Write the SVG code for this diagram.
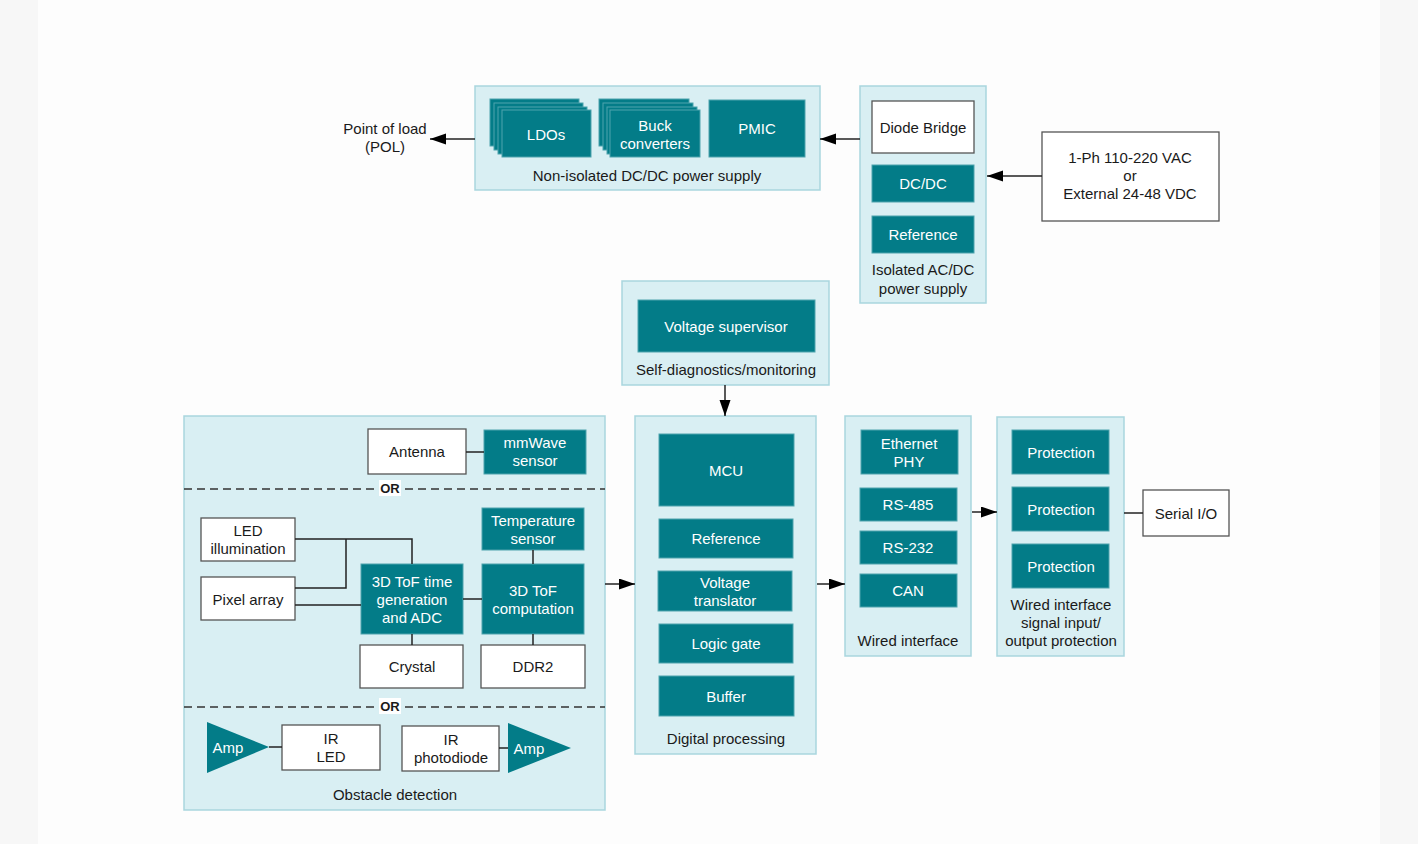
<svg xmlns="http://www.w3.org/2000/svg" width="1418" height="844" viewBox="0 0 1418 844">
<defs>
<style>
text{font-family:"Liberation Sans",Arial,sans-serif;font-size:15px;fill:#1a1a1a;text-anchor:middle;dominant-baseline:central}
.w{fill:#ffffff}
.grp{fill:#d9eff3;stroke:#a9d6de;stroke-width:1.5}
.teal{fill:#037c88;stroke:#4fa3ad;stroke-width:1}
.box{fill:#ffffff;stroke:#555555;stroke-width:1.3}
.ln{stroke:#222222;stroke-width:1.5;fill:none}
.dash{stroke:#333333;stroke-width:1.5;stroke-dasharray:8 5;fill:none}
.or{font-weight:bold;font-size:13px}
</style>
<marker id="ah" markerUnits="userSpaceOnUse" markerWidth="16" markerHeight="12" refX="16" refY="5.5" orient="auto">
<path d="M0,0 L16,5.5 L0,11 z" fill="#000000"/>
</marker>
</defs>
<rect x="0" y="0" width="1418" height="844" fill="#f7f7f7"/>
<rect x="38" y="0" width="1342" height="844" fill="#fdfdfd"/>

<g id="nonisolated">
<rect class="grp" x="475" y="86" width="345" height="104"/>
<rect class="teal" x="490" y="99" width="89" height="47"/>
<rect class="teal" x="494" y="103" width="89" height="47"/>
<rect class="teal" x="498" y="107" width="89" height="47"/>
<rect class="teal" x="502" y="110" width="89" height="47"/>
<text class="w" x="546" y="134">LDOs</text>
<rect class="teal" x="599" y="99" width="90" height="47"/>
<rect class="teal" x="603" y="103" width="90" height="47"/>
<rect class="teal" x="607" y="107" width="90" height="47"/>
<rect class="teal" x="610" y="110" width="90" height="47"/>
<text class="w" x="655" y="125">Buck</text>
<text class="w" x="655" y="143">converters</text>
<rect class="teal" x="709" y="100" width="96" height="57"/>
<text class="w" x="757" y="128">PMIC</text>
<text x="647" y="175">Non-isolated DC/DC power supply</text>
</g>

<g id="pol">
<text x="385" y="128">Point of load</text>
<text x="385" y="146">(POL)</text>
</g>

<g id="isolated">
<rect class="grp" x="860" y="86" width="126" height="217"/>
<rect class="box" x="872" y="101" width="102" height="52"/>
<text x="923" y="127">Diode Bridge</text>
<rect class="teal" x="872" y="165" width="102" height="37"/>
<text class="w" x="923" y="183">DC/DC</text>
<rect class="teal" x="872" y="216" width="102" height="37"/>
<text class="w" x="923" y="234">Reference</text>
<text x="923" y="269">Isolated AC/DC</text>
<text x="923" y="288">power supply</text>
</g>

<g id="input">
<rect class="box" x="1042" y="132" width="177" height="89"/>
<text x="1130" y="157">1-Ph 110-220 VAC</text>
<text x="1130" y="175">or</text>
<text x="1130" y="193">External 24-48 VDC</text>
</g>

<g id="selfdiag">
<rect class="grp" x="622" y="281" width="207" height="104"/>
<rect class="teal" x="638" y="300" width="177" height="52"/>
<text class="w" x="726" y="326">Voltage supervisor</text>
<text x="726" y="369">Self-diagnostics/monitoring</text>
</g>

<g id="digital">
<rect class="grp" x="635" y="416" width="181" height="338"/>
<rect class="teal" x="659" y="434" width="135" height="72"/>
<text class="w" x="726" y="470">MCU</text>
<rect class="teal" x="659" y="519" width="134" height="39"/>
<text class="w" x="726" y="538">Reference</text>
<rect class="teal" x="658" y="571" width="134" height="40"/>
<text class="w" x="725" y="582">Voltage</text>
<text class="w" x="725" y="600">translator</text>
<rect class="teal" x="659" y="624" width="134" height="39"/>
<text class="w" x="726" y="643">Logic gate</text>
<rect class="teal" x="659" y="676" width="135" height="40"/>
<text class="w" x="726" y="696">Buffer</text>
<text x="726" y="738">Digital processing</text>
</g>

<g id="wired">
<rect class="grp" x="845" y="416" width="126" height="240"/>
<rect class="teal" x="861" y="430" width="97" height="44"/>
<text class="w" x="909" y="443">Ethernet</text>
<text class="w" x="909" y="461">PHY</text>
<rect class="teal" x="860" y="488" width="97" height="33"/>
<text class="w" x="908" y="504">RS-485</text>
<rect class="teal" x="860" y="531" width="97" height="33"/>
<text class="w" x="908" y="547">RS-232</text>
<rect class="teal" x="860" y="574" width="97" height="33"/>
<text class="w" x="908" y="590">CAN</text>
<text x="908" y="640">Wired interface</text>
</g>

<g id="protection">
<rect class="grp" x="997" y="417" width="127" height="239"/>
<rect class="teal" x="1012" y="430" width="97" height="44"/>
<text class="w" x="1061" y="452">Protection</text>
<rect class="teal" x="1012" y="487" width="97" height="44"/>
<text class="w" x="1061" y="509">Protection</text>
<rect class="teal" x="1012" y="544" width="97" height="44"/>
<text class="w" x="1061" y="566">Protection</text>
<text x="1061" y="604">Wired interface</text>
<text x="1061" y="622">signal input/</text>
<text x="1061" y="640">output protection</text>
</g>

<g id="serial">
<rect class="box" x="1143" y="490" width="86" height="46"/>
<text x="1186" y="513">Serial I/O</text>
</g>

<g id="sensing">
<rect class="grp" x="184" y="416" width="421" height="394"/>
<path class="dash" d="M184,489 H605"/>
<path class="dash" d="M184,707 H605"/>
<rect x="379" y="480" width="22" height="16" fill="#ffffff"/>
<text class="or" x="390" y="488">OR</text>
<rect x="379" y="698" width="22" height="16" fill="#ffffff"/>
<text class="or" x="390" y="706">OR</text>
<text x="395" y="794">Obstacle detection</text>
</g>

<g id="antenna">
<rect class="box" x="368" y="429" width="98" height="45"/>
<text x="417" y="451">Antenna</text>
</g>
<g id="mmwave">
<rect class="teal" x="484" y="430" width="102" height="44"/>
<text class="w" x="535" y="442">mmWave</text>
<text class="w" x="535" y="460">sensor</text>
</g>
<g id="led">
<rect class="box" x="201" y="518" width="94" height="43"/>
<text x="248" y="530">LED</text>
<text x="248" y="548">illumination</text>
</g>
<g id="pixel">
<rect class="box" x="201" y="577" width="94" height="43"/>
<text x="248" y="599">Pixel array</text>
</g>
<g id="temp">
<rect class="teal" x="482" y="508" width="102" height="42"/>
<text class="w" x="533" y="520">Temperature</text>
<text class="w" x="533" y="538">sensor</text>
</g>
<g id="tofgen">
<rect class="teal" x="361" y="564" width="102" height="70"/>
<text class="w" x="412" y="581">3D ToF time</text>
<text class="w" x="412" y="599">generation</text>
<text class="w" x="412" y="617">and ADC</text>
</g>
<g id="tofcomp">
<rect class="teal" x="482" y="564" width="102" height="70"/>
<text class="w" x="533" y="590">3D ToF</text>
<text class="w" x="533" y="608">computation</text>
</g>
<g id="crystal">
<rect class="box" x="360" y="645" width="103" height="43"/>
<text x="412" y="666">Crystal</text>
</g>
<g id="ddr2">
<rect class="box" x="481" y="645" width="104" height="43"/>
<text x="533" y="666">DDR2</text>
</g>
<g id="amp1">
<path d="M207,722 L269,747 L207,773 z" fill="#037c88"/>
<text class="w" x="228" y="747">Amp</text>
</g>
<g id="irled">
<rect class="box" x="282" y="725" width="98" height="45"/>
<text x="331" y="738">IR</text>
<text x="331" y="756">LED</text>
</g>
<g id="irpd">
<rect class="box" x="402" y="726" width="97" height="45"/>
<text x="451" y="739">IR</text>
<text x="451" y="757">photodiode</text>
</g>
<g id="amp2">
<path d="M508,723 L571,748 L508,773 z" fill="#037c88"/>
<text class="w" x="529" y="748">Amp</text>
</g>

<g id="connectors">
<path class="ln" d="M475,139 H430" marker-end="url(#ah)"/>
<path class="ln" d="M860,139 H820" marker-end="url(#ah)"/>
<path class="ln" d="M1042,176 H987" marker-end="url(#ah)"/>
<path class="ln" d="M725,385 V416" marker-end="url(#ah)"/>
<path class="ln" d="M605,584 H635" marker-end="url(#ah)"/>
<path class="ln" d="M817,584 H845" marker-end="url(#ah)"/>
<path class="ln" d="M972,512 H997" marker-end="url(#ah)"/>
<path class="ln" d="M1124,513 H1143"/>
<path class="ln" d="M466,452 H484"/>
<path class="ln" d="M295,539 H412 V564"/>
<path class="ln" d="M346,539 V588 H295"/>
<path class="ln" d="M295,605 H361"/>
<path class="ln" d="M463,599 H482"/>
<path class="ln" d="M533,550 V564"/>
<path class="ln" d="M412,634 V645"/>
<path class="ln" d="M533,634 V645"/>
<path class="ln" d="M269,747 H282"/>
<path class="ln" d="M499,748 H508"/>
</g>
</svg>
